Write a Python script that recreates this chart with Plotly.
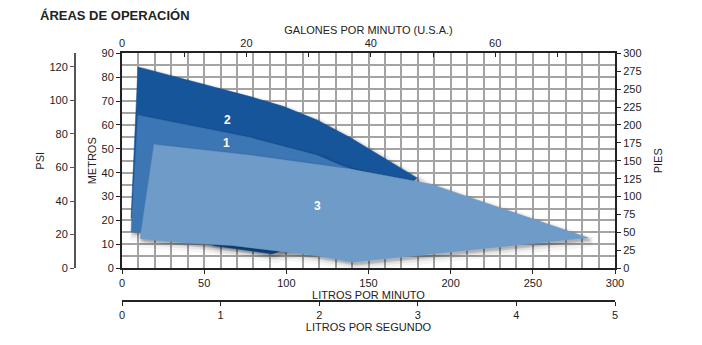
import plotly.graph_objects as go

# ---- data (LPM, metres) ----
area2_lpm = [9.7, 77.9, 98.0, 118.7, 138.8, 158.9, 179.6, 144.9, 91.3, 56.6, 35.3, 5.5]
area2_m = [84.3, 71.9, 67.8, 62.1, 54.7, 46.4, 37.8, 17.7, 5.9, 9.4, 14.4, 21.0]
area1_lpm = [9.7, 77.9, 118.7, 132.7, 157.0, 108.3, 47.5, 5.5]
area1_m = [64.1, 54.7, 47.3, 43.2, 37.4, 17.3, 14.4, 15.2]
area3_lpm = [19.5, 77.9, 138.8, 187.5, 283.6, 140.6, 117.5, 91.3, 67.0, 36.5, 11.0]
area3_m = [51.8, 47.3, 41.5, 35.3, 12.7, 2.5, 5.3, 7.4, 9.5, 10.7, 12.3]
labels = ["2", "1", "3"]
label_lpm = [64.1, 63.7, 119.2]
label_m = [62.2, 52.6, 25.9]

lpm_ticks = [0, 50, 100, 150, 200, 250, 300]
m_ticks = [0, 10, 20, 30, 40, 50, 60, 70, 80, 90]
psi_ticks = [0, 20, 40, 60, 80, 100, 120]
ft_ticks = [0, 25, 50, 75, 100, 125, 150, 175, 200, 225, 250, 275, 300]
gpm_ticks = [0, 10, 20, 30, 40, 50, 60, 70]
gpm_text = ["0", "", "20", "", "40", "", "60", ""]
lps_ticks = [0, 1, 2, 3, 4, 5]

colors = ["#16559a", "#3d76b4", "#6e9bc7"]

FONT = "Liberation Sans Narrow, Arial Narrow, Liberation Sans, Arial, sans-serif"
W, H = 702, 345
ML, MR, MT, MB = 30, 40, 20, 10
PW, PH = W - ML - MR, H - MT - MB
X0, X1 = 122, 615
Y0, Y1 = 273, 54
xdom = [(X0 - ML) / PW, (X1 - ML) / PW]
ydom = [(H - MB - Y0) / PH, (H - MB - Y1) / PH]
px_x = 300 / (X1 - X0)
px_y = 90 / (Y0 - Y1)

fig = go.Figure()

areas = [(area2_lpm, area2_m), (area1_lpm, area1_m), (area3_lpm, area3_m)]
for (xs, ys), col in zip(areas, colors):
    # soft drop shadow
    for off, lw, a in [(4, 10, 0.04), (3, 6, 0.06), (2, 3, 0.08)]:
        sx = [v + off * px_x for v in xs] + [xs[0] + off * px_x]
        sy = [v - off * px_y for v in ys] + [ys[0] - off * px_y]
        fig.add_trace(go.Scatter(x=sx, y=sy, mode="lines", fill="toself",
                                 fillcolor=f"rgba(0,0,0,{a})",
                                 line=dict(color=f"rgba(0,0,0,{a})", width=lw),
                                 hoverinfo="skip", showlegend=False))
    fig.add_trace(go.Scatter(x=xs + [xs[0]], y=ys + [ys[0]], mode="lines",
                             fill="toself", fillcolor=col,
                             line=dict(color=col, width=0.5),
                             hoverinfo="skip", showlegend=False))

for t, x, y in zip(labels, label_lpm, label_m):
    fig.add_annotation(x=x, y=y, text=f"<b>{t}</b>", showarrow=False,
                       font=dict(family="Liberation Sans, Arial", size=12, color="white"))

# dummy traces for the extra axes
for xa, ya in [("x2", "y"), ("x3", "y"), ("x", "y2"), ("x", "y3")]:
    fig.add_trace(go.Scatter(x=[0], y=[0], xaxis=xa, yaxis=ya, mode="markers",
                             marker=dict(opacity=0, size=1), hoverinfo="skip",
                             showlegend=False))

GRID = "#a3a3a3"
tickfont = dict(family=FONT, size=11, color="#222")
titlefont = dict(family=FONT, size=11, color="#222")

fig.update_layout(
    width=W, height=H,
    margin=dict(l=ML, r=MR, t=MT, b=MB),
    paper_bgcolor="white", plot_bgcolor="white",
    title=dict(text="<b>ÁREAS DE OPERACIÓN</b>", x=40 / W, y=1 - 15 / H,
               xref="container", yref="container", xanchor="left", yanchor="middle",
               font=dict(family="Liberation Sans Narrow, Arial Narrow, Liberation Sans, Arial", size=13, color="#222")),
    xaxis=dict(domain=xdom, range=[0, 300], anchor="y",
               tickvals=lpm_ticks, ticks="outside", ticklen=4, tickcolor="#222",
               showline=True, linecolor="#222", linewidth=2,
               showgrid=True, gridcolor=GRID, gridwidth=1.5,
               minor=dict(dtick=10, showgrid=True, gridcolor=GRID, gridwidth=1.5, ticks=""),
               zeroline=False, tickfont=tickfont,
               title=dict(text="LITROS POR MINUTO", font=titlefont, standoff=0)),
    yaxis=dict(domain=ydom, range=[0, 90], anchor="x",
               tickvals=m_ticks, ticks="outside", ticklen=4, tickcolor="#222",
               showline=True, linecolor="#222", linewidth=2,
               showgrid=True, gridcolor=GRID, gridwidth=1.5,
               minor=dict(dtick=5, showgrid=True, gridcolor=GRID, gridwidth=1.5, ticks=""),
               zeroline=False, tickfont=tickfont,
               title=dict(text="METROS", font=titlefont, standoff=3)),
    yaxis2=dict(domain=ydom, range=[0, 90 / 0.70307], overlaying="y", anchor="free",
                position=(75 - ML) / PW, side="left",
                tickvals=psi_ticks, ticks="outside", ticklen=4, tickcolor="#555",
                showline=True, linecolor="#555", linewidth=2, showgrid=False,
                zeroline=False, tickfont=tickfont,
                title=dict(text="PSI", font=titlefont, standoff=2)),
    yaxis3=dict(domain=ydom, range=[0, 300], overlaying="y", anchor="x", side="right",
                tickvals=ft_ticks, ticks="outside", ticklen=4, tickcolor="#222",
                showline=True, linecolor="#222", linewidth=2, showgrid=False,
                zeroline=False, tickfont=tickfont,
                title=dict(text="PIES", font=titlefont, standoff=14)),
    xaxis2=dict(domain=xdom, range=[0, 300 / 3.78541], overlaying="x", anchor="y",
                side="top", tickvals=gpm_ticks, ticktext=gpm_text,
                ticks="inside", ticklen=4, tickcolor="#222",
                showline=True, linecolor="#222", linewidth=2, showgrid=False,
                zeroline=False, tickfont=tickfont,
                title=dict(text="GALONES POR MINUTO (U.S.A.)", font=titlefont, standoff=0)),
    xaxis3=dict(domain=xdom, range=[0, 5], overlaying="x", anchor="free",
                position=(H - MB - 306) / PH, side="bottom",
                tickvals=lps_ticks, ticks="outside", ticklen=4, tickcolor="#222",
                showline=True, linecolor="#222", linewidth=2, showgrid=False,
                zeroline=False, tickfont=tickfont,
                title=dict(text="LITROS POR SEGUNDO", font=titlefont, standoff=0)),
)

fig.write_html("out.html")
